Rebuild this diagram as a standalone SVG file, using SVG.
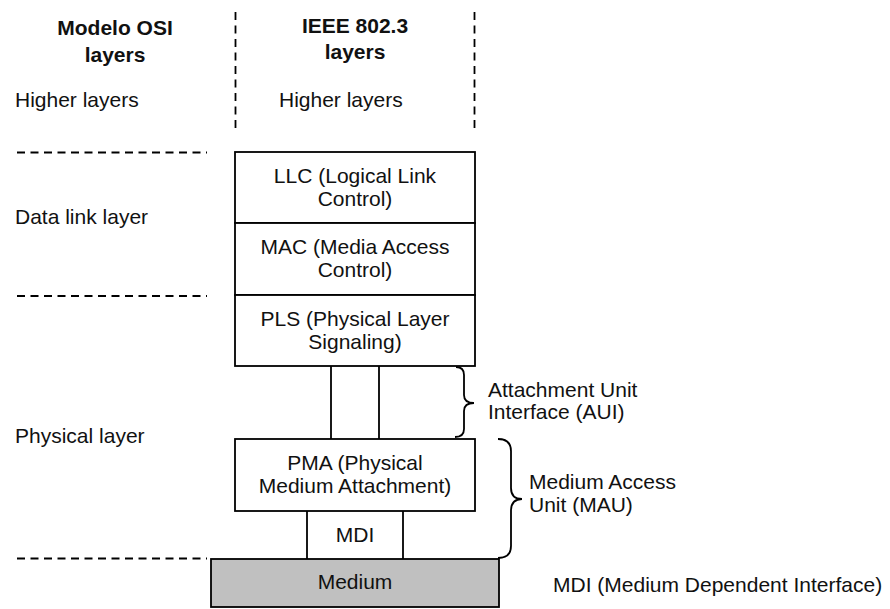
<svg xmlns="http://www.w3.org/2000/svg" width="890" height="609" viewBox="0 0 890 609">
<style>
text{font-family:"Liberation Sans",Arial,sans-serif;font-size:21px;fill:#111}
.b{font-weight:bold}
.c{text-anchor:middle}
.box{fill:#fff;stroke:#000;stroke-width:1.8}
.ln{fill:none;stroke:#000;stroke-width:1.8}
.dash{fill:none;stroke:#000;stroke-width:1.8;stroke-dasharray:8 5.5}
</style>
<rect width="890" height="609" fill="#fff"/>
<g id="guides">
<line class="dash" x1="235.5" y1="12" x2="235.5" y2="128"/>
<line class="dash" x1="474.5" y1="12" x2="474.5" y2="128"/>
<line class="dash" x1="17" y1="152.5" x2="207" y2="152.5"/>
<line class="dash" x1="17" y1="296" x2="207" y2="296"/>
<line class="dash" x1="17" y1="558.5" x2="207" y2="558.5"/>
</g>
<g id="headers">
<text class="b c" x="115" y="35">Modelo OSI</text>
<text class="b c" x="115" y="62">layers</text>
<text class="b c" x="355" y="33">IEEE 802.3</text>
<text class="b c" x="355" y="59">layers</text>
<text x="15" y="107">Higher layers</text>
<text x="279" y="107">Higher layers</text>
<text x="15" y="224">Data link layer</text>
<text x="15" y="443">Physical layer</text>
</g>
<g id="llc"><rect class="box" x="235" y="152" width="240" height="71"/>
<text class="c" x="355" y="183">LLC (Logical Link</text><text class="c" x="355" y="206">Control)</text></g>
<g id="mac"><rect class="box" x="235" y="223" width="240" height="72"/>
<text class="c" x="355" y="254">MAC (Media Access</text><text class="c" x="355" y="277">Control)</text></g>
<g id="pls"><rect class="box" x="235" y="295" width="240" height="71"/>
<text class="c" x="355" y="326">PLS (Physical Layer</text><text class="c" x="355" y="349">Signaling)</text></g>
<g id="connectors">
<line class="ln" x1="331" y1="366" x2="331" y2="439"/>
<line class="ln" x1="379" y1="366" x2="379" y2="439"/>
<line class="ln" x1="307" y1="511" x2="307" y2="559"/>
<line class="ln" x1="403" y1="511" x2="403" y2="559"/>
<path class="ln" d="M456 367 Q464 367 464 375 L464 395 Q464 403 474 403 Q464 403 464 411 L464 429 Q464 437 455 437"/>
<path class="ln" d="M498 439 Q511 439 511 451 L511 488 Q511 499 522 499 Q511 499 511 511 L511 546 Q511 558 498 558"/>
</g>
<g id="pma"><rect class="box" x="235" y="439" width="240" height="72"/>
<text class="c" x="355" y="470">PMA (Physical</text><text class="c" x="355" y="493">Medium Attachment)</text></g>
<g id="mdi"><text class="c" x="355" y="542">MDI</text></g>
<g id="medium"><rect class="box" x="211" y="559" width="288" height="48" style="fill:#c0c0c0"/>
<text class="c" x="355" y="589">Medium</text></g>
<g id="labels">
<text x="488" y="397">Attachment Unit</text>
<text x="488" y="419">Interface (AUI)</text>
<text x="529" y="489">Medium Access</text>
<text x="529" y="512">Unit (MAU)</text>
<text x="553" y="592">MDI (Medium Dependent Interface)</text>
</g>
</svg>
